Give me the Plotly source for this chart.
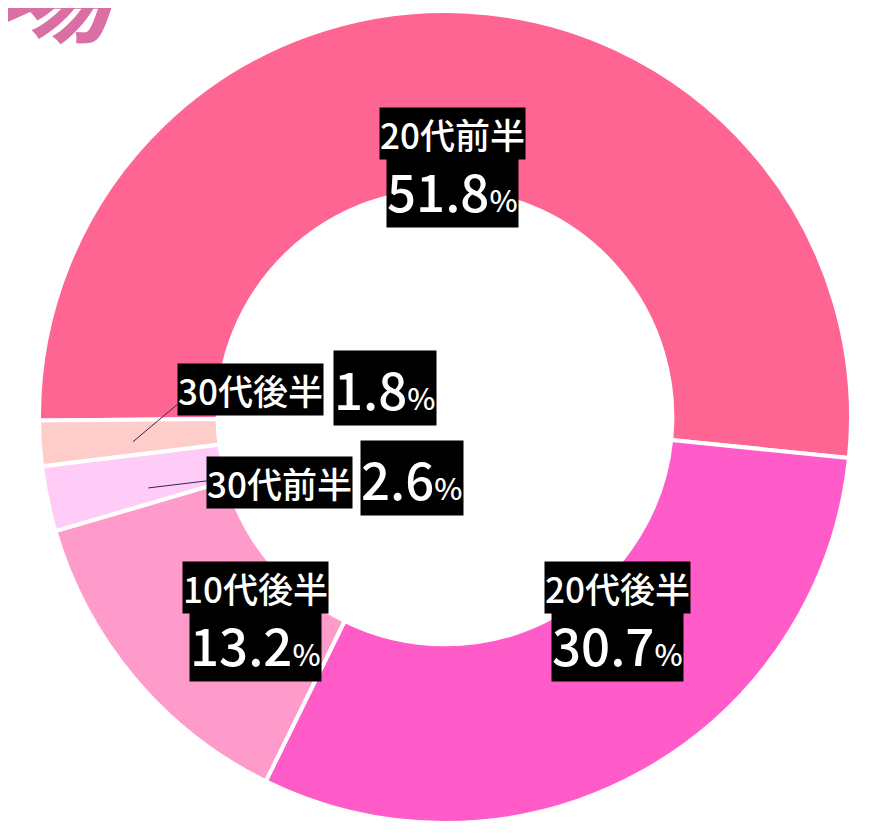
import math
import plotly.graph_objects as go

# ---- data ----
categories = ["20代前半", "20代後半", "10代後半", "30代前半", "30代後半"]
values = [51.8, 30.7, 13.2, 2.6, 1.8]
colors = ["#FF6592", "#FF5BC9", "#FF9BCB", "#FFCCF8", "#FFCDC9"]

# ---- layout constants ----
W, H = 873, 836
CX, CY, R = 445, 417, 406          # pie centre / radius in screen px (target)
PAGE_OFFSET = 8                    # the page body margin shifts the figure
HOLE = 0.56
ROTATION = 269.5                   # start of first slice, clockwise from 12 o'clock

FONT = "Noto Sans CJK JP"
NAME_SIZE = 35
VALUE_SIZE = 51
PCT_SIZE = 30
WEIGHT = 500


def px_to_paper(px, py):
    return (px - PAGE_OFFSET) / W, 1 - (py - PAGE_OFFSET) / H


dx0, dy0 = px_to_paper(CX - R, CY + R)
dx1, dy1 = px_to_paper(CX + R, CY - R)
fig = go.Figure(go.Pie(
    labels=categories,
    values=values,
    sort=False,
    direction="clockwise",
    rotation=ROTATION,
    hole=HOLE,
    marker=dict(colors=colors, line=dict(color="white", width=4)),
    textinfo="none",
    hoverinfo="label+percent",
    showlegend=False,
    domain=dict(x=[dx0, dx1], y=[dy0, dy1]),
))

# slice mid angles derived from the data (math angle, degrees)
total = sum(values)
start = 90 - ROTATION
mids = []
cum = 0
for v in values:
    a0 = start - 360 * cum / total
    cum += v
    a1 = start - 360 * cum / total
    mids.append((a0 + a1) / 2)

# label placement styles: (radius px, angle tweak deg) for big slices
big_style = {0: (254, 1.0), 1: (264, 11.7), 2: (276, 6.5)}
# small slices: leader start radius, angle tweak, leader end offset (dx, dy),
# name-box centre dy from leader end, value-box left offset from leader end, value dy
small_style = {
    3: (305, 1.8, (58, -7), 2, 154, -3),
    4: (313, 0.8, (44, -37), -15, 156, -17),
}

annotations = []
shapes = []


def fmt(v):
    return f"{v:.1f}<span style='font-size:{PCT_SIZE}px'>%</span>"


def txt(x, y, text, size, **kw):
    d = dict(x=x, y=y, xref="paper", yref="paper", showarrow=False,
             text=text, font=dict(family=FONT, size=size, color="white", weight=WEIGHT),
             bgcolor="black", borderpad=0, yanchor="middle")
    d.update(kw)
    return d


for i, (name, v) in enumerate(zip(categories, values)):
    if i in big_style:
        rr, dth = big_style[i]
        th = math.radians(mids[i] + dth)
        px = CX + rr * math.cos(th)
        py = CY - rr * math.sin(th)
        x, y = px_to_paper(px, py)
        annotations.append(txt(x, y, name, NAME_SIZE, xanchor="center", yshift=30))
        annotations.append(txt(x, y, fmt(v), VALUE_SIZE, xanchor="center", yshift=-27))
    else:
        rr, dth, (ddx, ddy), ndy, vdx, vdy = small_style[i]
        th = math.radians(mids[i] + dth)
        sx = CX + rr * math.cos(th)
        sy = CY - rr * math.sin(th)
        ex, ey = sx + ddx, sy + ddy
        x0, y0 = px_to_paper(sx, sy)
        x1, y1 = px_to_paper(ex, ey)
        shapes.append(dict(type="line", xref="paper", yref="paper",
                           x0=x0, y0=y0, x1=x1, y1=y1,
                           line=dict(color="#2e2550", width=1)))
        lx, ly = px_to_paper(ex, ey + ndy)
        annotations.append(txt(lx, ly, name, NAME_SIZE, xanchor="left"))
        vx, vy = px_to_paper(ex + vdx, ey + vdy)
        annotations.append(txt(vx, vy, fmt(v), VALUE_SIZE, xanchor="left"))

# cropped header text at top-left (the reference image is cut off here)
annotations.append(dict(
    x=0, y=1, xref="paper", yref="paper", showarrow=False,
    text="<b><i>場</i></b>", font=dict(family=FONT, size=120, color="#D96FA2"),
    xanchor="left", yanchor="bottom", xshift=-18, yshift=-62))

fig.update_layout(
    width=W, height=H,
    margin=dict(l=0, r=0, t=0, b=0),
    paper_bgcolor="white", plot_bgcolor="white",
    annotations=annotations, shapes=shapes,
)

fig.write_html("out.html")
